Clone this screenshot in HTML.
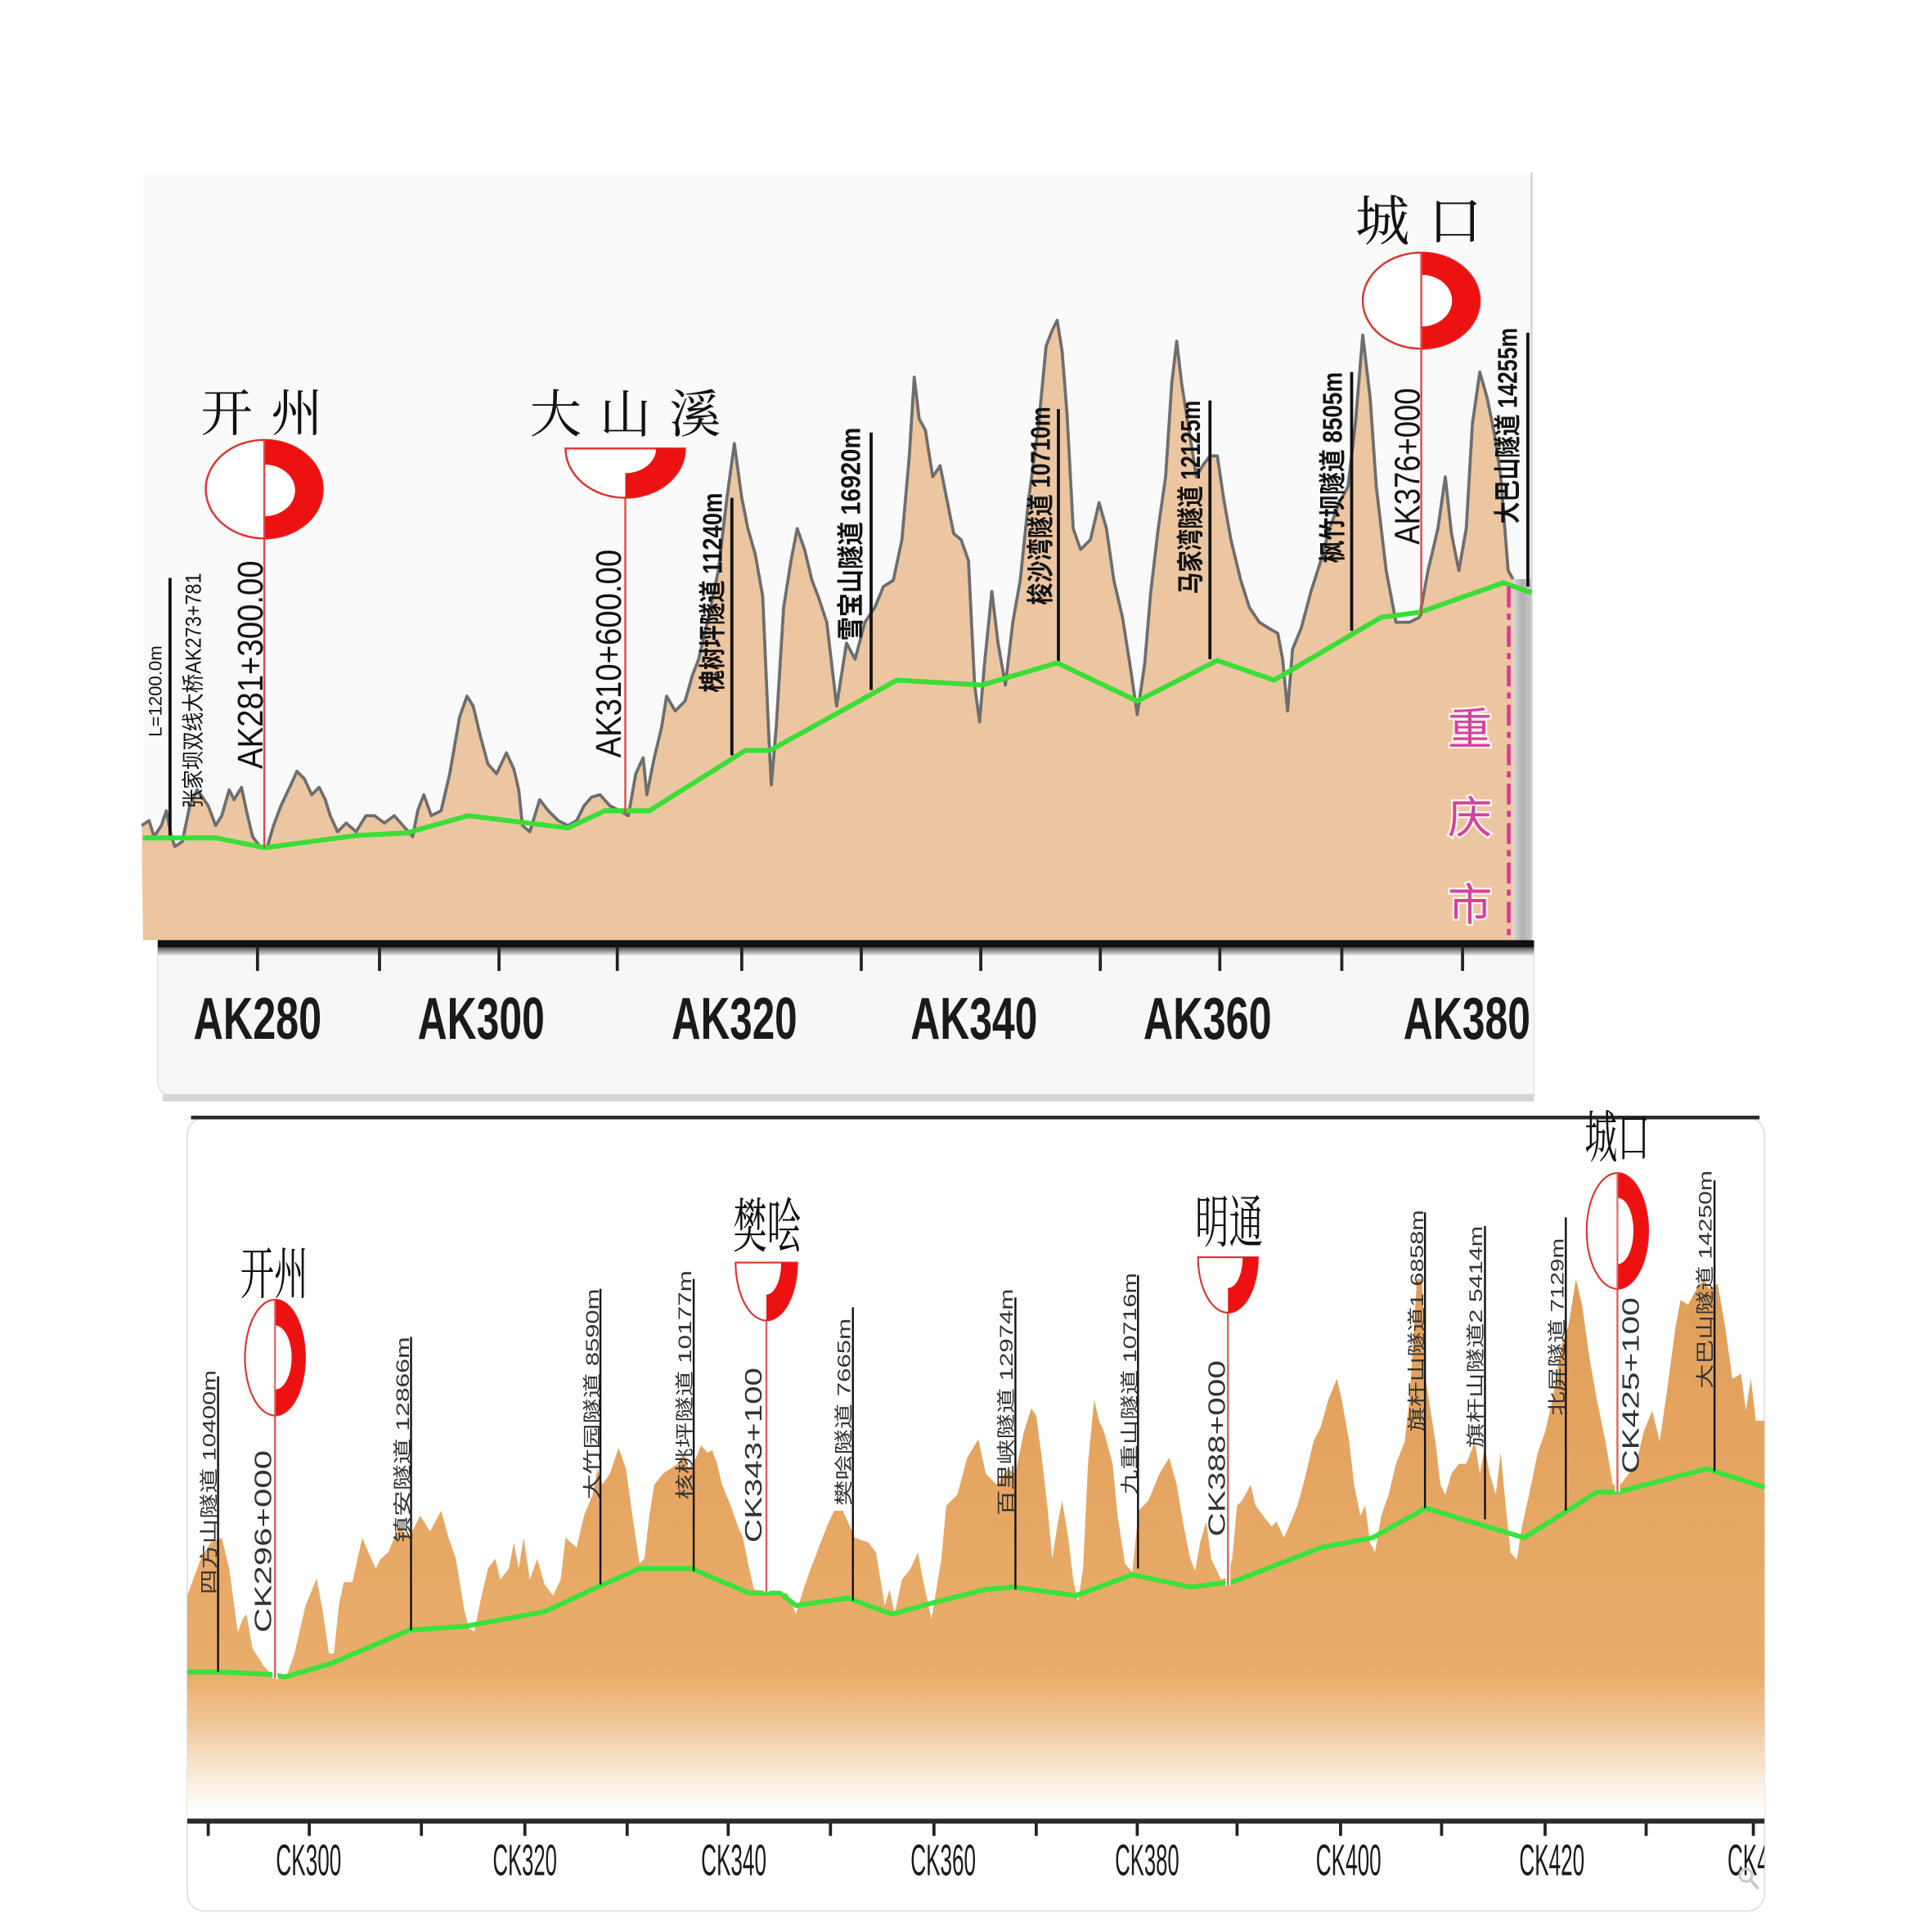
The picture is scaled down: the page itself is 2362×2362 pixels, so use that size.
<!DOCTYPE html>
<html>
<head>
<meta charset="utf-8">
<style>
html,body{margin:0;padding:0;background:#fff;overflow:hidden;}
svg{display:block;}
.t1{font-family:"Liberation Sans","Noto Sans CJK SC",sans-serif;font-size:22px;fill:#111;font-weight:bold;}
.t2{font-family:"Liberation Sans","Noto Sans CJK SC",sans-serif;font-size:15px;fill:#333;}
.ak{font-family:"Liberation Sans","Noto Sans CJK SC",sans-serif;font-size:29px;fill:#111;}
.ck{font-family:"Liberation Sans","Noto Sans CJK SC",sans-serif;font-size:19px;fill:#333;}
.nm{font-family:"Noto Serif CJK SC","Liberation Serif",serif;fill:#111;}
.ax1{font-family:"Liberation Sans",sans-serif;font-size:48px;font-weight:bold;fill:#1a1a1a;}
.ax2{font-family:"Liberation Sans",sans-serif;font-size:36px;fill:#1a1a1a;}
.pk{font-family:"Liberation Sans","Noto Sans CJK SC",sans-serif;font-size:36px;fill:#d6409f;stroke:#fff6ee;stroke-width:3;paint-order:stroke;}
</style>
</head>
<body>
<svg width="2362" height="2362" viewBox="0 0 1568 1568" xmlns="http://www.w3.org/2000/svg">
<defs>
<linearGradient id="gstrip" x1="0" y1="0" x2="1" y2="0">
<stop offset="0" stop-color="#d8d8d8"/><stop offset="0.5" stop-color="#b0b0b0"/><stop offset="1" stop-color="#c8c8c8"/>
</linearGradient>
<linearGradient id="gbot" gradientUnits="userSpaceOnUse" x1="0" y1="1030" x2="0" y2="1476">
<stop offset="0" stop-color="#e09e58"/>
<stop offset="0.6" stop-color="#e8aa68"/>
<stop offset="0.74" stop-color="#e9ad6c"/>
<stop offset="0.82" stop-color="#f0c494"/>
<stop offset="0.9" stop-color="#f8e2ca"/>
<stop offset="0.97" stop-color="#fefaf5"/>
<stop offset="1" stop-color="#ffffff"/>
</linearGradient>
<linearGradient id="gbar" x1="0" y1="0" x2="0" y2="1">
<stop offset="0" stop-color="#555"/><stop offset="1" stop-color="#f7f7f7"/>
</linearGradient>
<clipPath id="cpb"><rect x="140" y="1490" width="1292" height="50"/></clipPath>
</defs>

<!-- ================= TOP CHART ================= -->
<rect x="116" y="140" width="1127" height="623" fill="#fafafa"/>
<line x1="1243" y1="140" x2="1243" y2="762" stroke="#cfcfcf" stroke-width="1.5"/>

<polygon fill="#ecc6a1" points="115,670 121,666 125,679 131,670 135,658 139,679 142,687 148,683 154,654 160,641 163,645 169,654 175,670 180,662 186,641 190,649 196,639 200,658 205,679 211,687 217,687 222,670 228,654 236,637 241,626 247,632 253,645 259,639 264,649 268,662 274,675 281,668 289,675 297,662 304,662 312,668 320,662 327,670 335,679 339,658 344,645 350,662 358,658 365,628 373,582 379,565 384,573 390,598 396,620 403,628 411,611 417,624 421,641 424,670 430,675 438,649 445,658 453,666 461,670 468,666 474,654 480,647 487,645 495,654 503,658 510,662 516,628 522,615 525,645 531,615 537,590 541,565 548,577 556,569 562,548 567,535 575,501 583,463 590,404 596,360 602,404 607,429 613,450 619,484 624,598 626,637 630,590 636,493 642,455 647,429 653,446 659,471 664,484 671,505 679,573 687,522 694,535 702,505 710,493 717,476 725,471 732,438 738,370 742,306 746,340 751,349 757,387 763,378 769,408 774,433 780,438 786,455 791,556 795,586 799,539 805,480 810,522 816,556 822,505 828,471 835,404 843,344 849,281 854,268 858,260 862,285 866,336 871,429 877,446 885,438 892,408 898,429 904,471 911,501 917,539 923,580 929,539 934,480 940,429 946,387 951,311 955,277 959,311 965,349 971,387 976,378 982,370 988,370 993,404 999,438 1007,471 1014,493 1022,505 1030,510 1037,514 1041,535 1045,577 1049,527 1056,510 1064,480 1072,455 1079,429 1087,408 1094,395 1100,344 1106,272 1112,323 1117,395 1125,463 1133,505 1144,505 1152,501 1159,463 1167,429 1173,387 1178,433 1184,463 1190,429 1195,344 1201,302 1207,323 1213,353 1218,387 1224,463 1228,470 1228,763 116,763"/>
<polyline fill="none" stroke="#6e6e6e" stroke-width="2.5" stroke-linejoin="round" points="115,670 121,666 125,679 131,670 135,658 139,679 142,687 148,683 154,654 160,641 163,645 169,654 175,670 180,662 186,641 190,649 196,639 200,658 205,679 211,687 217,687 222,670 228,654 236,637 241,626 247,632 253,645 259,639 264,649 268,662 274,675 281,668 289,675 297,662 304,662 312,668 320,662 327,670 335,679 339,658 344,645 350,662 358,658 365,628 373,582 379,565 384,573 390,598 396,620 403,628 411,611 417,624 421,641 424,670 430,675 438,649 445,658 453,666 461,670 468,666 474,654 480,647 487,645 495,654 503,658 510,662 516,628 522,615 525,645 531,615 537,590 541,565 548,577 556,569 562,548 567,535 575,501 583,463 590,404 596,360 602,404 607,429 613,450 619,484 624,598 626,637 630,590 636,493 642,455 647,429 653,446 659,471 664,484 671,505 679,573 687,522 694,535 702,505 710,493 717,476 725,471 732,438 738,370 742,306 746,340 751,349 757,387 763,378 769,408 774,433 780,438 786,455 791,556 795,586 799,539 805,480 810,522 816,556 822,505 828,471 835,404 843,344 849,281 854,268 858,260 862,285 866,336 871,429 877,446 885,438 892,408 898,429 904,471 911,501 917,539 923,580 929,539 934,480 940,429 946,387 951,311 955,277 959,311 965,349 971,387 976,378 982,370 988,370 993,404 999,438 1007,471 1014,493 1022,505 1030,510 1037,514 1041,535 1045,577 1049,527 1056,510 1064,480 1072,455 1079,429 1087,408 1094,395 1100,344 1106,272 1112,323 1117,395 1125,463 1133,505 1144,505 1152,501 1159,463 1167,429 1173,387 1178,433 1184,463 1190,429 1195,344 1201,302 1207,323 1213,353 1218,387 1224,463 1228,470"/>

<!-- gray strip right -->
<rect x="1228" y="470" width="15" height="293" fill="url(#gstrip)"/>

<!-- tunnel lines top -->
<g stroke="#111" stroke-width="2.5">
<line x1="138" y1="469" x2="138" y2="679"/>
<line x1="594" y1="404" x2="594" y2="613"/>
<line x1="707" y1="351" x2="707" y2="560"/>
<line x1="859" y1="332" x2="859" y2="537"/>
<line x1="982" y1="325" x2="982" y2="535"/>
<line x1="1097" y1="302" x2="1097" y2="512"/>
<line x1="1240" y1="270" x2="1240" y2="476"/>
</g>

<!-- green line top -->
<polyline fill="none" stroke="#3ade36" stroke-width="4" stroke-linejoin="round" points="116,680 175,680 215,688 290,678 330,676 380,662 461,672 491,658 527,658 605,609 625,609 728,552 797,556 858,538 923,569 988,536 1034,552 1121,501 1152,497 1220,473 1243,481"/>

<!-- pink border -->
<line x1="1224.5" y1="476" x2="1224.5" y2="762" stroke="#d6389c" stroke-width="3" stroke-dasharray="17 5 5 5"/>
<text class="pk" x="1175" y="604">重</text>
<text class="pk" x="1175" y="676">庆</text>
<text class="pk" x="1175" y="747">市</text>

<!-- top rotated texts -->
<text class="t2" style="font-size:15px;fill:#111" transform="translate(131,598) rotate(-90)" textLength="74" lengthAdjust="spacingAndGlyphs">L=1200.0m</text>
<text class="t1" style="font-size:18px;font-weight:normal" transform="translate(163,656) rotate(-90)" textLength="191" lengthAdjust="spacingAndGlyphs">张家坝双线大桥AK273+781</text>
<text class="ak" transform="translate(213,624) rotate(-90)" textLength="169" lengthAdjust="spacingAndGlyphs">AK281+300.00</text>
<text class="ak" transform="translate(504,615) rotate(-90)" textLength="169" lengthAdjust="spacingAndGlyphs">AK310+600.00</text>
<text class="t1" transform="translate(586,562) rotate(-90)" textLength="162" lengthAdjust="spacingAndGlyphs">槐树坪隧道 11240m</text>
<text class="t1" transform="translate(698,520) rotate(-90)" textLength="173" lengthAdjust="spacingAndGlyphs">雪宝山隧道 16920m</text>
<text class="t1" transform="translate(852,491) rotate(-90)" textLength="161" lengthAdjust="spacingAndGlyphs">梭沙湾隧道 10710m</text>
<text class="t1" transform="translate(974,482) rotate(-90)" textLength="157" lengthAdjust="spacingAndGlyphs">马家湾隧道 12125m</text>
<text class="t1" transform="translate(1089,457) rotate(-90)" textLength="155" lengthAdjust="spacingAndGlyphs">枫竹坝隧道 8505m</text>
<text class="ak" transform="translate(1152,442) rotate(-90)" textLength="127" lengthAdjust="spacingAndGlyphs">AK376+000</text>
<text class="t1" transform="translate(1231,425) rotate(-90)" textLength="159" lengthAdjust="spacingAndGlyphs">大巴山隧道 14255m</text>

<!-- top markers -->
<line x1="214.5" y1="357" x2="214.5" y2="688" stroke="#e04848" stroke-width="1.6"/>
<ellipse cx="214.5" cy="397" rx="47.5" ry="40" fill="#fff" stroke="#e03030" stroke-width="1.6"/>
<path d="M214.5,357 A47.5,40 0 0 1 214.5,437 L214.5,419 A25,21 0 0 0 214.5,377 Z" fill="#ee1111"/>
<line x1="214.5" y1="357" x2="214.5" y2="437" stroke="#e04848" stroke-width="1.6"/>
<text class="nm" x="163" y="350" font-size="42" textLength="99" lengthAdjust="spacing">开州</text>

<line x1="507.5" y1="364" x2="507.5" y2="660" stroke="#e04848" stroke-width="1.6"/>
<path d="M459,364 A48.5,40 0 0 0 556,364 Z" fill="#fff" stroke="#e03030" stroke-width="1.6"/>
<path d="M532.5,364 L556,364 A48.5,40 0 0 1 507.5,404 L507.5,384 A25,20 0 0 0 532.5,364 Z" fill="#ee1111"/>
<text class="nm" x="430" y="351" font-size="42" textLength="155" lengthAdjust="spacing">大山溪</text>

<line x1="1153.5" y1="205" x2="1153.5" y2="500" stroke="#e04848" stroke-width="1.6"/>
<ellipse cx="1153.5" cy="244" rx="47.5" ry="39" fill="#fff" stroke="#e03030" stroke-width="1.6"/>
<path d="M1153.5,205 A47.5,39 0 0 1 1153.5,283 L1153.5,265 A25,21 0 0 0 1153.5,223 Z" fill="#ee1111"/>
<line x1="1153.5" y1="205" x2="1153.5" y2="283" stroke="#e04848" stroke-width="1.6"/>
<text class="nm" x="1100" y="195" font-size="44" textLength="103" lengthAdjust="spacing">城口</text>

<!-- ================= TOP AXIS ================= -->
<path d="M128,766 L1245,766 L1245,889 L140,889 Q128,889 128,877 Z" fill="#f7f7f7" stroke="#e2e2e2" stroke-width="1"/>
<rect x="132" y="888" width="1113" height="6" fill="#d6d6d6"/>
<rect x="128" y="763" width="1117" height="6" fill="#111"/>
<rect x="128" y="769" width="1117" height="7" fill="url(#gbar)"/>
<g stroke="#222" stroke-width="2.5">
<line x1="209" y1="768" x2="209" y2="788"/>
<line x1="308" y1="768" x2="308" y2="788"/>
<line x1="405" y1="768" x2="405" y2="788"/>
<line x1="501" y1="768" x2="501" y2="788"/>
<line x1="602" y1="768" x2="602" y2="788"/>
<line x1="699" y1="768" x2="699" y2="788"/>
<line x1="796" y1="768" x2="796" y2="788"/>
<line x1="893" y1="768" x2="893" y2="788"/>
<line x1="990" y1="768" x2="990" y2="788"/>
<line x1="1089" y1="768" x2="1089" y2="788"/>
<line x1="1187" y1="768" x2="1187" y2="788"/>
</g>
<text class="ax1" x="157" y="843" textLength="104" lengthAdjust="spacingAndGlyphs">AK280</text>
<text class="ax1" x="339" y="843" textLength="103" lengthAdjust="spacingAndGlyphs">AK300</text>
<text class="ax1" x="545" y="843" textLength="102" lengthAdjust="spacingAndGlyphs">AK320</text>
<text class="ax1" x="739" y="843" textLength="103" lengthAdjust="spacingAndGlyphs">AK340</text>
<text class="ax1" x="928" y="843" textLength="104" lengthAdjust="spacingAndGlyphs">AK360</text>
<text class="ax1" x="1139" y="843" textLength="103" lengthAdjust="spacingAndGlyphs">AK380</text>

<!-- ================= BOTTOM CHART ================= -->
<rect x="152" y="907" width="1280" height="644" rx="14" ry="14" fill="#fff" stroke="#e4e4e4" stroke-width="1.5"/>
<line x1="155" y1="907" x2="1428" y2="907" stroke="#2a2a2a" stroke-width="3"/>

<polygon fill="url(#gbot)" points="152,1295 163,1265 171,1252 180,1248 186,1273 193,1325 197,1314 200,1310 205,1338 214,1352 224,1363 233,1359 239,1342 248,1303 257,1281 262,1308 267,1342 271,1342 275,1303 279,1284 286,1284 294,1248 299,1260 305,1273 309,1265 315,1260 324,1239 332,1248 341,1230 349,1243 358,1226 364,1248 370,1265 377,1308 381,1322 385,1324 390,1299 396,1273 402,1265 406,1282 413,1273 417,1252 421,1273 425,1248 430,1282 436,1265 442,1286 449,1295 455,1282 459,1248 468,1256 474,1230 481,1213 485,1192 489,1205 495,1196 502,1175 508,1192 514,1235 519,1269 523,1265 527,1230 531,1205 538,1196 544,1192 550,1188 555,1179 559,1192 565,1183 569,1173 574,1179 578,1177 582,1188 586,1205 593,1222 599,1239 603,1248 608,1273 612,1290 629,1293 639,1293 646,1310 652,1290 658,1273 663,1260 671,1239 677,1226 684,1226 688,1235 694,1248 705,1252 711,1260 718,1303 722,1290 726,1310 732,1282 739,1273 745,1260 749,1282 756,1314 764,1265 768,1222 777,1213 785,1183 794,1168 800,1196 809,1205 818,1192 824,1196 831,1162 837,1143 841,1149 845,1179 850,1222 854,1265 858,1239 862,1218 867,1248 871,1282 875,1300 879,1273 883,1188 888,1136 892,1153 896,1162 903,1188 907,1230 913,1269 919,1276 924,1226 932,1218 941,1196 949,1183 955,1205 960,1235 966,1265 970,1275 974,1252 979,1235 983,1265 991,1282 996,1280 1000,1265 1004,1222 1008,1218 1015,1205 1019,1222 1025,1230 1032,1239 1036,1235 1042,1248 1046,1239 1053,1222 1059,1200 1066,1170 1072,1158 1078,1136 1085,1119 1089,1136 1095,1170 1099,1205 1104,1230 1108,1222 1112,1252 1116,1260 1121,1230 1127,1213 1133,1188 1140,1170 1144,1136 1150,1038 1154,1038 1157,1119 1161,1145 1165,1170 1169,1205 1173,1213 1178,1196 1184,1188 1190,1188 1197,1170 1201,1196 1205,1175 1209,1196 1214,1213 1218,1179 1222,1222 1226,1260 1231,1266 1235,1240 1241,1213 1248,1179 1254,1162 1260,1136 1267,1093 1273,1076 1279,1038 1284,1059 1290,1102 1296,1136 1303,1170 1309,1205 1315,1205 1322,1196 1328,1188 1334,1162 1341,1145 1347,1170 1353,1128 1360,1076 1364,1055 1370,1059 1377,1046 1383,1038 1387,1046 1394,1042 1400,1076 1406,1119 1413,1115 1417,1145 1421,1119 1425,1153 1432,1153 1432,1476 152,1476"/>

<!-- green line bottom -->
<polyline fill="none" stroke="#3ae23a" stroke-width="4" stroke-linejoin="round" points="152,1357 176,1357 222,1359 231,1361 269,1350 332,1323 377,1320 442,1308 485,1288 519,1273 561,1273 608,1293 633,1293 646,1303 688,1297 724,1310 764,1299 800,1290 822,1288 873,1295 919,1278 966,1288 1000,1284 1072,1256 1114,1248 1157,1224 1237,1248 1296,1211 1313,1211 1385,1192 1432,1207"/>

<!-- tunnel lines bottom -->
<g stroke="#111" stroke-width="1.6">
<line x1="177" y1="1117" x2="177" y2="1357"/>
<line x1="333.6" y1="1085" x2="333.6" y2="1323"/>
<line x1="487.3" y1="1046" x2="487.3" y2="1286"/>
<line x1="563" y1="1038" x2="563" y2="1275"/>
<line x1="692.2" y1="1061" x2="692.2" y2="1299"/>
<line x1="824.1" y1="1053" x2="824.1" y2="1290"/>
<line x1="923.6" y1="1035" x2="923.6" y2="1273"/>
<line x1="1156.5" y1="984" x2="1156.5" y2="1224"/>
<line x1="1205.2" y1="995" x2="1205.2" y2="1233"/>
<line x1="1270.8" y1="988" x2="1270.8" y2="1226"/>
<line x1="1391.5" y1="958" x2="1391.5" y2="1194"/>
</g>

<!-- bottom tunnel texts -->
<text class="t2" transform="translate(175,1294) rotate(-90)" textLength="182" lengthAdjust="spacingAndGlyphs">四方山隧道  10400m</text>
<text class="t2" transform="translate(332,1252) rotate(-90)" textLength="167" lengthAdjust="spacingAndGlyphs">镇安隧道  12866m</text>
<text class="t2" transform="translate(486,1217) rotate(-90)" textLength="171" lengthAdjust="spacingAndGlyphs">大竹园隧道  8590m</text>
<text class="t2" transform="translate(561,1217) rotate(-90)" textLength="186" lengthAdjust="spacingAndGlyphs">核桃坪隧道  10177m</text>
<text class="t2" transform="translate(690,1222) rotate(-90)" textLength="152" lengthAdjust="spacingAndGlyphs">樊哙隧道  7665m</text>
<text class="t2" transform="translate(822,1230) rotate(-90)" textLength="184" lengthAdjust="spacingAndGlyphs">百里峡隧道  12974m</text>
<text class="t2" transform="translate(922,1213) rotate(-90)" textLength="180" lengthAdjust="spacingAndGlyphs">九重山隧道  10716m</text>
<text class="t2" transform="translate(1155,1162) rotate(-90)" textLength="180" lengthAdjust="spacingAndGlyphs">旗杆山隧道1  6858m</text>
<text class="t2" transform="translate(1203,1175) rotate(-90)" textLength="180" lengthAdjust="spacingAndGlyphs">旗杆山隧道2  5414m</text>
<text class="t2" transform="translate(1269,1149) rotate(-90)" textLength="144" lengthAdjust="spacingAndGlyphs">北屏隧道  7129m</text>
<text class="t2" transform="translate(1389,1127) rotate(-90)" textLength="177" lengthAdjust="spacingAndGlyphs">大巴山隧道  14250m</text>

<!-- bottom markers -->
<line x1="223.2" y1="1055" x2="223.2" y2="1362" stroke="#fff" stroke-width="4"/>
<line x1="223.2" y1="1055" x2="223.2" y2="1362" stroke="#e06060" stroke-width="1.6"/>
<ellipse cx="223.2" cy="1101.8" rx="24.4" ry="47" fill="#fff" stroke="#e03030" stroke-width="1.4"/>
<path d="M223.2,1054.8 A24.4,47 0 0 1 223.2,1148.8 L223.2,1127.8 A13.5,26 0 0 0 223.2,1075.8 Z" fill="#ee1111"/>
<line x1="223.2" y1="1055" x2="223.2" y2="1149" stroke="#e06060" stroke-width="1.4"/>
<text class="nm" x="195" y="1050" font-size="46" textLength="55" lengthAdjust="spacingAndGlyphs">开州</text>
<text class="ck" transform="translate(220,1325) rotate(-90)" textLength="148" lengthAdjust="spacingAndGlyphs">CK296+000</text>

<line x1="622" y1="1025" x2="622" y2="1292" stroke="#fff" stroke-width="4"/>
<line x1="622" y1="1025" x2="622" y2="1292" stroke="#e06060" stroke-width="1.6"/>
<path d="M597,1024.7 A25,47 0 0 0 647,1024.7 Z" fill="#fff" stroke="#e03030" stroke-width="1.4"/>
<path d="M634,1024.7 L647,1024.7 A25,47 0 0 1 622,1071.7 L622,1050.7 A12,26 0 0 0 634,1024.7 Z" fill="#ee1111"/>
<text class="nm" x="595" y="1012" font-size="48" textLength="55" lengthAdjust="spacingAndGlyphs">樊哙</text>
<text class="ck" transform="translate(618,1252) rotate(-90)" textLength="142" lengthAdjust="spacingAndGlyphs">CK343+100</text>

<line x1="996.6" y1="1020" x2="996.6" y2="1287" stroke="#fff" stroke-width="4"/>
<line x1="996.6" y1="1020" x2="996.6" y2="1287" stroke="#e06060" stroke-width="1.6"/>
<path d="M972.3,1020.4 A24.3,45 0 0 0 1020.9,1020.4 Z" fill="#fff" stroke="#e03030" stroke-width="1.4"/>
<path d="M1008.6,1020.4 L1020.9,1020.4 A24.3,45 0 0 1 996.6,1065.4 L996.6,1045.4 A12,25 0 0 0 1008.6,1020.4 Z" fill="#ee1111"/>
<text class="nm" x="970" y="1008" font-size="46" textLength="55" lengthAdjust="spacingAndGlyphs">明通</text>
<text class="ck" transform="translate(994,1247) rotate(-90)" textLength="143" lengthAdjust="spacingAndGlyphs">CK388+000</text>

<line x1="1312.7" y1="952" x2="1312.7" y2="1211" stroke="#fff" stroke-width="4"/>
<line x1="1312.7" y1="952" x2="1312.7" y2="1211" stroke="#e06060" stroke-width="1.6"/>
<ellipse cx="1312.7" cy="999" rx="25" ry="47" fill="#fff" stroke="#e03030" stroke-width="1.4"/>
<path d="M1312.7,952 A25,47 0 0 1 1312.7,1046 L1312.7,1026 A13,27 0 0 0 1312.7,972 Z" fill="#ee1111"/>
<line x1="1312.7" y1="952" x2="1312.7" y2="1046" stroke="#e06060" stroke-width="1.4"/>
<text class="nm" x="1286" y="939" font-size="46" textLength="53" lengthAdjust="spacingAndGlyphs">城口</text>
<text class="ck" transform="translate(1330,1196) rotate(-90)" textLength="143" lengthAdjust="spacingAndGlyphs">CK425+100</text>

<!-- bottom axis -->
<line x1="152" y1="1478" x2="1432" y2="1478" stroke="#2a2a2a" stroke-width="4"/>
<g stroke="#222" stroke-width="2.5">
<line x1="169" y1="1480" x2="169" y2="1490"/>
<line x1="251" y1="1480" x2="251" y2="1490"/>
<line x1="342" y1="1480" x2="342" y2="1490"/>
<line x1="426" y1="1480" x2="426" y2="1490"/>
<line x1="509" y1="1480" x2="509" y2="1490"/>
<line x1="591" y1="1480" x2="591" y2="1490"/>
<line x1="674" y1="1480" x2="674" y2="1490"/>
<line x1="758" y1="1480" x2="758" y2="1490"/>
<line x1="841" y1="1480" x2="841" y2="1490"/>
<line x1="923" y1="1480" x2="923" y2="1490"/>
<line x1="1004" y1="1480" x2="1004" y2="1490"/>
<line x1="1088" y1="1480" x2="1088" y2="1490"/>
<line x1="1170" y1="1480" x2="1170" y2="1490"/>
<line x1="1254" y1="1480" x2="1254" y2="1490"/>
<line x1="1336" y1="1480" x2="1336" y2="1490"/>
<line x1="1423" y1="1480" x2="1423" y2="1490"/>
</g>
<g clip-path="url(#cpb)">
<text class="ax2" x="224" y="1522" textLength="53" lengthAdjust="spacingAndGlyphs">CK300</text>
<text class="ax2" x="400" y="1522" textLength="52" lengthAdjust="spacingAndGlyphs">CK320</text>
<text class="ax2" x="569" y="1522" textLength="53" lengthAdjust="spacingAndGlyphs">CK340</text>
<text class="ax2" x="739" y="1522" textLength="53" lengthAdjust="spacingAndGlyphs">CK360</text>
<text class="ax2" x="905" y="1522" textLength="52" lengthAdjust="spacingAndGlyphs">CK380</text>
<text class="ax2" x="1068" y="1522" textLength="53" lengthAdjust="spacingAndGlyphs">CK400</text>
<text class="ax2" x="1233" y="1522" textLength="53" lengthAdjust="spacingAndGlyphs">CK420</text>
<text class="ax2" x="1402" y="1522" textLength="53" lengthAdjust="spacingAndGlyphs">CK440</text>
</g>
<circle cx="1417" cy="1522" r="5" fill="none" stroke="#c8c8c8" stroke-width="2"/>
<line x1="1421" y1="1526" x2="1427" y2="1533" stroke="#c8c8c8" stroke-width="2.5"/>
</svg>
</body>
</html>
